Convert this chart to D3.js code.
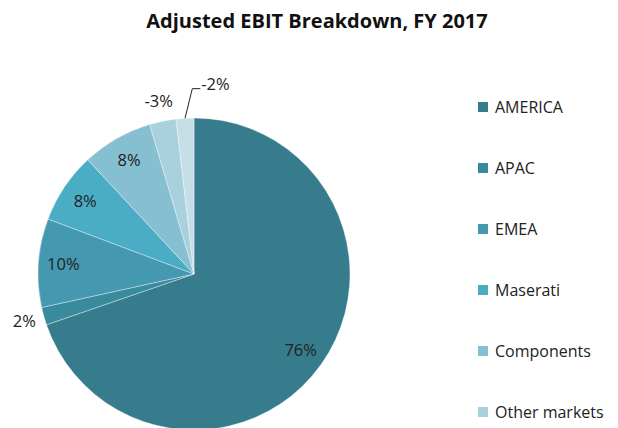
<!DOCTYPE html>
<html>
<head>
<meta charset="utf-8">
<script src="https://cdn.jsdelivr.net/npm/d3@7"></script>
<style>
  body { margin: 0; background: #fff; }
  svg { font-family: "Open Sans", "Noto Sans", sans-serif; }
</style>
</head>
<body>
<div id="chart"></div>
<script>
// Datos
const segments = ["AMERICA", "APAC", "EMEA", "Maserati", "Components", "Other markets", "Unallocated items & eliminations"];
const ebitShare = [76, 2, 10, 8, 8, -3, -2];
const sliceColors = ["#367c8c", "#3a8a9e", "#4499b0", "#4aacc5", "#86bfd2", "#a9d0dd", "#c6dfe7"];

const width = 618, height = 428;
const cx = 194, cy = 274, radius = 156;

const svg = d3.select("#chart").append("svg")
    .attr("width", width)
    .attr("height", height);

// Titulo
svg.append("text")
    .attr("x", 317)
    .attr("y", 28)
    .attr("text-anchor", "middle")
    .attr("font-weight", "bold")
    .attr("font-size", "20px")
    .attr("fill", "#111")
    .text("Adjusted EBIT Breakdown, FY 2017");

const data = segments.map((s, i) => ({ name: s, value: ebitShare[i], color: sliceColors[i] }));

// Excel dibuja los negativos con su valor absoluto
const pie = d3.pie().sort(null).value(d => Math.abs(d.value));
const arcs = pie(data);

const arc = d3.arc().innerRadius(0).outerRadius(radius);
const labelArc = d3.arc().innerRadius(radius * 0.84).outerRadius(radius * 0.84);
const outerLabelArc = d3.arc().innerRadius(radius * 1.13).outerRadius(radius * 1.13);

const g = svg.append("g").attr("transform", `translate(${cx},${cy})`);

g.selectAll("path")
    .data(arcs)
    .enter()
    .append("path")
    .attr("d", arc)
    .attr("fill", d => d.data.color)
    .attr("stroke", "#ffffff")
    .attr("stroke-opacity", 0.6)
    .attr("stroke-width", 0.6);

// Etiquetas: dentro para las grandes, fuera para las pequeñas
const fmt = d => d.data.value + "%";
const small = d => (d.endAngle - d.startAngle) < 0.2;

arcs.forEach((d, i) => {
    const isLast = i === arcs.length - 1;
    if (isLast) {
        // etiqueta con línea guía
        const mid = (d.startAngle + d.endAngle) / 2;
        const p0 = [Math.sin(mid) * radius, -Math.cos(mid) * radius];
        const p1 = [Math.sin(mid) * radius * 1.19 + 9, -Math.cos(mid) * radius * 1.19];
        const p2 = [p1[0] + 8, p1[1]];
        g.append("path")
            .attr("d", d3.line()([p0, p1, p2]))
            .attr("fill", "none")
            .attr("stroke", "#222")
            .attr("stroke-width", 1);
        g.append("text")
            .attr("x", p2[0] + 1)
            .attr("y", p2[1])
            .attr("dy", "0.05em")
            .attr("font-size", "16.5px")
            .attr("fill", "#222")
            .text(fmt(d));
        return;
    }
    const pos = small(d) ? outerLabelArc.centroid(d) : labelArc.centroid(d);
    g.append("text")
        .attr("x", pos[0])
        .attr("y", pos[1])
        .attr("dy", "0.35em")
        .attr("text-anchor", "middle")
        .attr("font-size", "16.5px")
        .attr("fill", "#222")
        .text(fmt(d));
});

// Leyenda (la última entrada queda fuera del área visible, como en el original)
const legendY = d3.scalePoint()
    .domain(segments)
    .range([107, 107 + 61 * (segments.length - 1)]);

const legend = svg.append("g");
const items = legend.selectAll("g")
    .data(data.filter(d => legendY(d.name) < height))
    .enter()
    .append("g")
    .attr("transform", d => `translate(478,${legendY(d.name)})`);

items.append("rect")
    .attr("x", 0)
    .attr("y", -5)
    .attr("width", 10)
    .attr("height", 10)
    .attr("fill", d => d.color);

items.append("text")
    .attr("x", 17)
    .attr("y", 0)
    .attr("dy", "0.35em")
    .attr("font-size", "16px")
    .attr("fill", "#222")
    .text(d => d.name);
</script>
</body>
</html>
